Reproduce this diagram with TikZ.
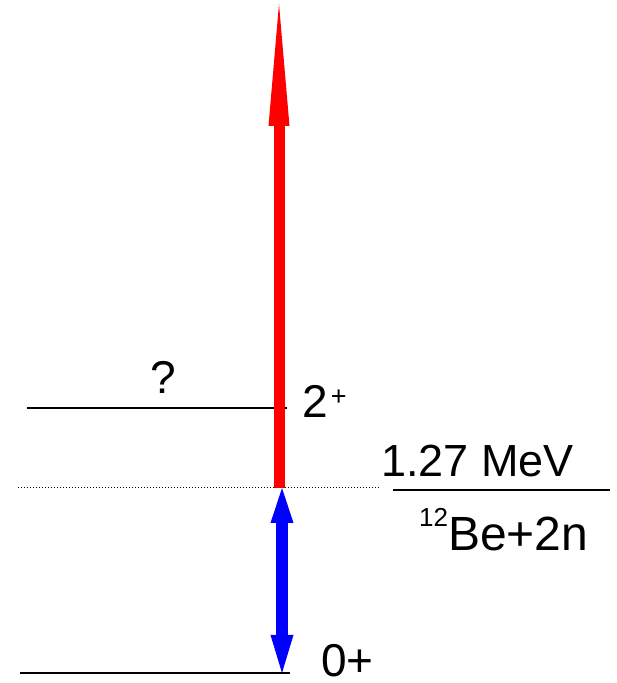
\documentclass[tikz,border=0pt]{standalone}
\usepackage{fontspec}
\setmainfont{Liberation Sans}
\usetikzlibrary{arrows.meta}

\begin{document}
\begin{tikzpicture}[x=1pt,y=1pt,
        font=\fontsize{46}{50}\selectfont,
        level/.style={line width=2pt},
        lbl/.style={inner sep=0pt,anchor=base west},
        up/.style={-{Triangle[length=122pt,width=21pt,line width=0pt]},line width=11pt,red},
        both/.style={{Triangle[length=35pt,width=23pt,line width=0pt]}-{Triangle[length=38pt,width=23pt,line width=0pt]},
                     line width=12pt,blue}]
        \useasboundingbox (0,0) rectangle (617,683);
        % levels
        \coordinate (gsL) at (20,10);   \coordinate (gsR) at (290,10);
        \coordinate (exL) at (27,275);  \coordinate (exR) at (287,275);
        \coordinate (thL) at (18,195);  \coordinate (thR) at (380,195);
        \coordinate (bdL) at (393,193); \coordinate (bdR) at (610,193);
        \coordinate (redlo) at (279,195); \coordinate (redhi) at (279,679);
        \coordinate (bluehi) at (282,195); \coordinate (bluelo) at (282,10);
        \draw[level] (gsL) -- (gsR);
        \draw[level] (exL) -- (exR);
        \draw[line width=1pt,dash pattern=on 1pt off 2pt] (thL) -- (thR);
        \draw[level] (bdL) -- (bdR);
        % transitions
        \draw[up] (redlo) -- (redhi);
        \draw[both] (bluehi) -- (bluelo);
        % labels
        \node[anchor=base,inner sep=0pt] (q) at (163,289) {?};
        \node[lbl] (ex) at (302,265) {2\kern3pt\raisebox{12pt}{\fontsize{27}{28}\selectfont +}};
        \node[lbl] (gs) at (321,6) {0+};
        \node[lbl,font=\fontsize{45}{50}\selectfont] (mev) at (381,206) {1.27 MeV};
        \node[lbl,font=\fontsize{48}{52}\selectfont] (be) at (419,132)
            {\raisebox{24pt}{\fontsize{26}{28}\selectfont 12}Be+2n};
    \end{tikzpicture}
\end{document}
